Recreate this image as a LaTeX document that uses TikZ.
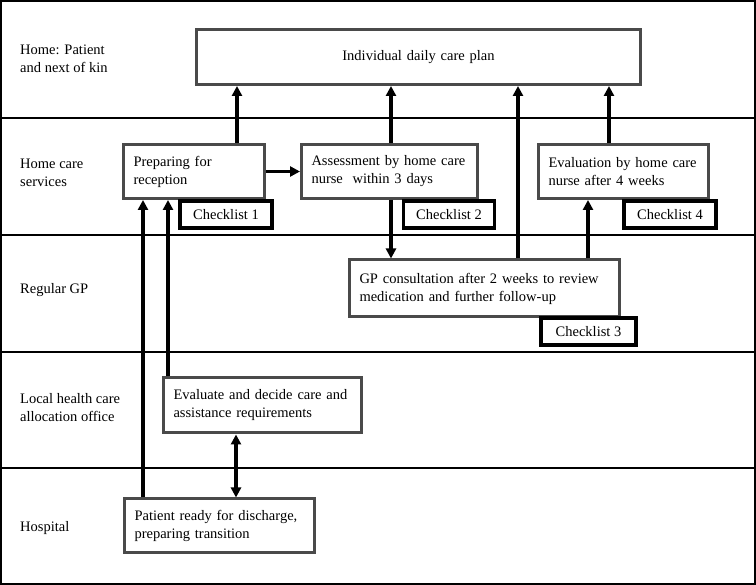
\documentclass[tikz,border=0pt]{standalone}
\usepackage{fontspec}
\setmainfont{Liberation Serif}
\usetikzlibrary{arrows.meta}
\definecolor{boxgray}{HTML}{4A4A4A}
\tikzset{
  txt/.style={font=\fontsize{14.5}{18}\selectfont},
  lane/.style={draw=black,line width=1.6pt},
  lanelabel/.style={txt,anchor=west,align=left,inner sep=0pt},
  stepbox/.style={txt,draw=boxgray,line width=3pt,inner xsep=10pt,inner ysep=0pt,align=left},
  checkbox/.style={txt,draw=black,line width=3.4pt,fill=white,inner sep=0pt,align=center,minimum height=27pt},
  arr/.style={draw=black,line width=3.2pt,-{Triangle[length=10pt,width=10pt]}},
  darr/.style={draw=black,line width=3.2pt,{Triangle[length=10pt,width=10pt]}-{Triangle[length=10pt,width=10pt]}}
}
\begin{document}
\begin{tikzpicture}[x=1pt,y=-1pt]
\useasboundingbox (0,0) rectangle (756,585);
% lanes
\draw[lane] (0.8,0.8) rectangle (755.2,584.2);
\draw[lane] (0,118) -- (756,118);
\draw[lane] (0,235) -- (756,235);
\draw[lane] (0,352) -- (756,352);
\draw[lane] (0,468) -- (756,468);
% lane labels
\node[lanelabel] (l1) at (20,59) {Home: Patient\\and next of kin};
\node[lanelabel] (l2) at (20,173) {Home care\\services};
\node[lanelabel] (l3) at (20,290) {Regular GP};
\node[lanelabel] (l4) at (20,408) {Local health care\\allocation office};
\node[lanelabel] (l5) at (20,528) {Hospital};
% boxes
\node[stepbox,align=center,minimum width=444pt,minimum height=55pt,text width=424pt] (plan) at (418.5,57) {Individual daily care plan};
\node[stepbox,minimum width=141pt,minimum height=54pt,text width=121pt] (prep) at (194,171.5) {Preparing for\\reception};
\node[stepbox,minimum width=176pt,minimum height=54pt,text width=156pt] (assess) at (389.5,171.5) {Assessment by home care\\nurse\ \ within 3 days};
\node[stepbox,minimum width=170pt,minimum height=54pt,text width=150pt] (eval) at (623.5,171.5) {Evaluation by home care\\nurse after 4 weeks};
\node[stepbox,minimum width=270pt,minimum height=57pt,text width=250pt] (gp) at (484.5,288.5) {GP consultation after 2 weeks to review\\medication and further follow-up};
\node[stepbox,minimum width=198pt,minimum height=55pt,text width=178pt] (evaldec) at (262.5,405.5) {Evaluate and decide care and\\assistance requirements};
\node[stepbox,minimum width=190pt,minimum height=54pt,text width=170pt] (patient) at (219.5,526) {Patient ready for discharge,\\preparing transition};
% checklists
\node[checkbox,minimum width=92pt] (ck1) at (226,214.5) {Checklist 1};
\node[checkbox,minimum width=91pt] (ck2) at (449,214.5) {Checklist 2};
\node[checkbox,minimum width=95pt] (ck3) at (588.5,331.5) {Checklist 3};
\node[checkbox,minimum width=92pt] (ck4) at (670,214.5) {Checklist 4};
% connectors
\draw[arr] ([xshift=43pt]prep.north) -- ([xshift=43pt]prep.north |- plan.south);
\draw[arr] ([xshift=1.5pt]assess.north) -- ([xshift=1.5pt]assess.north |- plan.south);
\draw[arr] ([xshift=-14.5pt]eval.north) -- ([xshift=-14.5pt]eval.north |- plan.south);
\draw[arr] ([xshift=33.5pt]gp.north) -- ([xshift=33.5pt]gp.north |- plan.south);
\draw[arr] ([xshift=103.5pt]gp.north) -- ([xshift=103.5pt]gp.north |- eval.south);
\draw[arr] ([xshift=1.5pt]assess.south) -- ([xshift=1.5pt]assess.south |- gp.north);
\draw[arr] (prep.east) -- (assess.west);
\draw[arr] ([xshift=-76.5pt]patient.north) -- ([xshift=-76.5pt]patient.north |- prep.south);
\draw[arr] ([xshift=-94.5pt]evaldec.north) -- ([xshift=-94.5pt]evaldec.north |- prep.south);
\draw[darr] ([xshift=-26.5pt]evaldec.south) -- ([xshift=-26.5pt]evaldec.south |- patient.north);
\end{tikzpicture}
\end{document}
